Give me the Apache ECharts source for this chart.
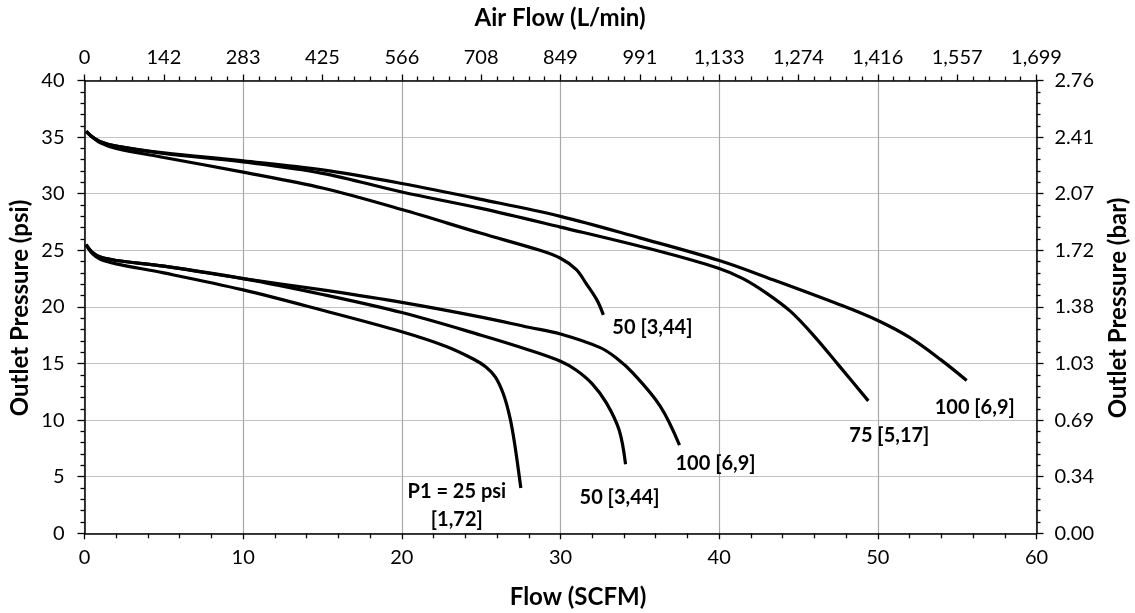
<!DOCTYPE html>
<html>
<head>
<meta charset="utf-8">
<script src="https://cdn.jsdelivr.net/npm/echarts@6/dist/echarts.min.js"></script>
<style>
  html, body { margin: 0; padding: 0; background: #fff; }
  #chart { width: 1135px; height: 613px; }
</style>
</head>
<body>
<div id="chart"></div>
<script>
// Outlet pressure (psi) vs flow (SCFM) for each inlet pressure setting
const curveLabels = ['100 [6,9]', '75 [5,17]', '50 [3,44]', '100 [6,9]', '50 [3,44]', 'P1 = 25 psi\n[1,72]'];

const hi100 = [[0.1,35.5],[0.5,35.0],[1,34.6],[2,34.2],[5,33.6],[10,32.9],[15,32.1],[20,30.9],[25,29.5],[30,28.0],[35,26.1],[40,24.1],[43.4,22.4],[47.6,20.2],[50,18.8],[52,17.3],[54,15.3],[55.6,13.5]];
const hi75  = [[0.1,35.5],[0.5,35.0],[1,34.6],[2,34.2],[5,33.55],[10,32.8],[15,31.8],[20,30.15],[25,28.7],[30,27.05],[36,25.0],[40,23.4],[41.5,22.5],[43,21.2],[44.5,19.6],[46,17.4],[47.5,14.9],[49.4,11.7]];
const hi50  = [[0.1,35.5],[0.5,35.0],[1,34.5],[2,34.0],[5,33.2],[10,31.9],[15,30.5],[20,28.6],[25,26.5],[28.7,25.0],[30,24.3],[31,23.3],[31.6,22.1],[32.3,20.6],[32.7,19.3]];
const lo100 = [[0.1,25.5],[0.5,24.8],[1,24.4],[2,24.1],[5,23.6],[10,22.5],[15,21.5],[20,20.4],[25,19.1],[28,18.2],[30,17.6],[32.5,16.4],[33.5,15.5],[34.6,14.1],[36.3,11.2],[37.5,7.8]];
const lo50  = [[0.1,25.5],[0.5,24.8],[1,24.4],[2,24.1],[5,23.6],[10,22.5],[15,21.1],[20,19.5],[25,17.5],[28,16.2],[30,15.2],[31,14.4],[32,13.2],[32.9,11.5],[33.7,9.1],[34.1,6.1]];
const lo25  = [[0.1,25.5],[0.5,24.7],[1,24.2],[2,23.8],[5,23.0],[10,21.5],[15,19.7],[20,17.8],[22.8,16.5],[24.5,15.4],[25.3,14.7],[25.9,13.8],[26.4,12.3],[26.8,10.3],[27.1,8.0],[27.5,4.0]];

// Secondary axis tick labels (unit conversions)
const lpmLabels = ['0','142','283','425','566','708','849','991','1,133','1,274','1,416','1,557','1,699'];
const barLabels = ['0.00','0.34','0.69','1.03','1.38','1.72','2.07','2.41','2.76'];

const FONT = 'Lato';
const curves = [hi100, hi75, hi50, lo100, lo50, lo25];
// label placement relative to each curve's end point
const labelOffsets = [[-32, 27, 'left'], [-19, 35, 'left'], [9, 13, 'left'], [-4, 19, 'left'], [-46, 33, 'left'], [-64, 18, 'center']];

const chart = echarts.init(document.getElementById('chart'), null, { renderer: 'canvas' });

const tickStyle = { color: '#000', width: 1.3 };
const labelStyle = { color: '#000', fontFamily: FONT, fontSize: 20 };

const series = curves.map((data, i) => ({
  type: 'line',
  xAxisIndex: 0,
  yAxisIndex: 0,
  data: data,
  smooth: 0.35,
  showSymbol: false,
  symbol: 'none',
  lineStyle: { color: '#000', width: 3.2 },
  silent: true,
  z: 5,
  markPoint: {
    symbol: 'circle',
    symbolSize: 0,
    silent: true,
    data: [{ coord: data[data.length - 1] }],
    label: {
      show: true,
      position: 'inside',
      formatter: curveLabels[i],
      offset: [labelOffsets[i][0], labelOffsets[i][1]],
      align: labelOffsets[i][2],
      verticalAlign: 'middle',
      color: '#000',
      fontFamily: FONT,
      fontWeight: 'bold',
      fontSize: 20,
      lineHeight: 28
    }
  }
}));

const titleFont = 'bold 24px ' + FONT;

chart.setOption({
  animation: false,
  backgroundColor: '#fff',
  grid: { left: 84.5, right: 98.5, top: 80.5, bottom: 79.7, containLabel: false },
  xAxis: [
    {
      type: 'value', position: 'bottom', min: 0, max: 60, interval: 10,
      axisLine: { show: true, onZero: false, lineStyle: { color: '#000', width: 1.5 } },
      axisTick: { show: true, inside: false, length: 6, lineStyle: tickStyle },
      minorTick: { show: true, splitNumber: 5, length: 5, lineStyle: tickStyle },
      splitLine: { show: true, lineStyle: { color: '#a9a9a9', width: 1.2 } },
      axisLabel: Object.assign({ margin: 14 }, labelStyle)
    },
    {
      type: 'value', position: 'top', min: 0, max: 60, interval: 5,
      axisLine: { show: true, onZero: false, lineStyle: { color: '#000', width: 1.5 } },
      axisTick: { show: true, inside: false, length: 6, lineStyle: tickStyle },
      minorTick: { show: true, splitNumber: 5, length: 4, lineStyle: tickStyle },
      splitLine: { show: false },
      axisLabel: Object.assign({ margin: 13, formatter: v => lpmLabels[Math.round(v / 5)] }, labelStyle)
    }
  ],
  yAxis: [
    {
      type: 'value', position: 'left', min: 0, max: 40, interval: 5,
      axisLine: { show: true, onZero: false, lineStyle: { color: '#000', width: 1.5 } },
      axisTick: { show: true, inside: false, length: 7, lineStyle: tickStyle },
      minorTick: { show: true, splitNumber: 5, length: 4, lineStyle: tickStyle },
      splitLine: { show: true, lineStyle: { color: '#c3c3c3', width: 1.2 } },
      axisLabel: Object.assign({ margin: 20 }, labelStyle)
    },
    {
      type: 'value', position: 'right', min: 0, max: 40, interval: 5,
      axisLine: { show: true, onZero: false, lineStyle: { color: '#000', width: 1.5 } },
      axisTick: { show: true, inside: false, length: 7, lineStyle: tickStyle },
      minorTick: { show: true, splitNumber: 5, length: 4, lineStyle: tickStyle },
      splitLine: { show: false },
      axisLabel: Object.assign({ margin: 18, formatter: v => barLabels[Math.round(v / 5)] }, labelStyle)
    }
  ],
  graphic: [
    { type: 'text', x: 560, y: 18, style: { text: 'Air Flow (L/min)', fill: '#000', font: titleFont, textAlign: 'center', textVerticalAlign: 'middle' } },
    { type: 'text', x: 578, y: 597, style: { text: 'Flow (SCFM)', fill: '#000', font: titleFont, textAlign: 'center', textVerticalAlign: 'middle' } },
    { type: 'text', x: 20, y: 308, rotation: Math.PI / 2, style: { text: 'Outlet Pressure (psi)', fill: '#000', font: titleFont, textAlign: 'center', textVerticalAlign: 'middle' } },
    { type: 'text', x: 1118, y: 308, rotation: Math.PI / 2, style: { text: 'Outlet Pressure (bar)', fill: '#000', font: titleFont, textAlign: 'center', textVerticalAlign: 'middle' } }
  ],
  series: series
});
</script>
</body>
</html>
